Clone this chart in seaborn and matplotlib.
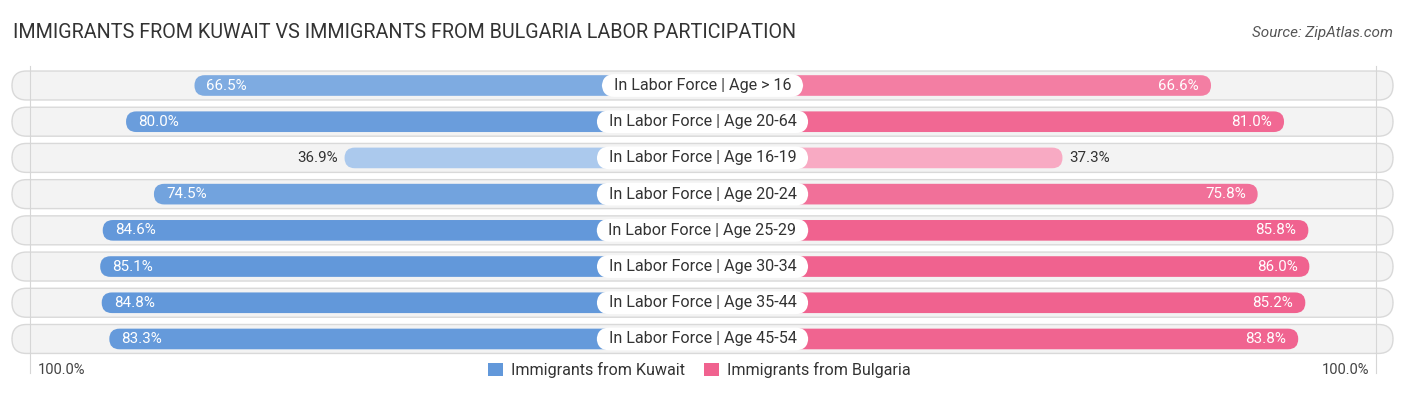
import numpy as np
import pandas as pd
import matplotlib
matplotlib.use("Agg")
import matplotlib.pyplot as plt
import seaborn as sns
from matplotlib.patches import FancyBboxPatch, Patch
from matplotlib.colors import to_rgb

# data
categories = [
    "In Labor Force | Age > 16",
    "In Labor Force | Age 20-64",
    "In Labor Force | Age 16-19",
    "In Labor Force | Age 20-24",
    "In Labor Force | Age 25-29",
    "In Labor Force | Age 30-34",
    "In Labor Force | Age 35-44",
    "In Labor Force | Age 45-54",
]
kuwait = [66.5, 80.0, 36.9, 74.5, 84.6, 85.1, 84.8, 83.3]
bulgaria = [66.6, 81.0, 37.3, 75.8, 85.8, 86.0, 85.2, 83.8]
groups = ["Immigrants from Kuwait", "Immigrants from Bulgaria"]

title = "IMMIGRANTS FROM KUWAIT VS IMMIGRANTS FROM BULGARIA LABOR PARTICIPATION"
source = "Source: ZipAtlas.com"

# layout (bars start behind the centre label)
OFFSET = 33.7
PX_X = 5.07      # pixels per % on x
PX_Y = 36.21     # pixels per row
W, H = 1406, 395
CX = 702.5

blue_dark, blue_light = "#6298da", "#aecbee"
pink_dark, pink_light = "#f0628f", "#f8adc5"


def shade(dark, light, v):
    t = np.clip((v - 35) / 50, 0, 1)
    d, l = np.array(to_rgb(dark)), np.array(to_rgb(light))
    return tuple(l + (d - l) * t)


df = pd.DataFrame({
    "category": categories * 2,
    "group": [groups[0]] * len(categories) + [groups[1]] * len(categories),
    "value": kuwait + bulgaria,
})
df["plot_x"] = np.where(df["group"] == groups[0], -(df["value"] + OFFSET), df["value"] + OFFSET)

fig = plt.figure(figsize=(W / 100, H / 100), dpi=100)
ax = fig.add_axes([0, 0, 1, 1])
plt.rcParams["font.family"] = ["Roboto", "DejaVu Sans"]

sns.barplot(data=df, x="plot_x", y="category", hue="group", order=categories,
            hue_order=groups, dodge=False, orient="h", width=0.57,
            palette=[blue_dark, pink_dark], legend=False, ax=ax)

ax.set_xlim(-CX / PX_X, (W - CX) / PX_X)
ax.set_ylim((H - 85.5) / PX_Y, -85.5 / PX_Y)
ax.axis("off")

aspect = PX_X / PX_Y

# row backgrounds
half = (CX - 12) / PX_X
for i in range(len(categories)):
    bg = FancyBboxPatch((-half, i - 0.4), 2 * half, 0.8,
                        boxstyle="round,pad=0,rounding_size=%f" % (14.5 / PX_X),
                        mutation_aspect=aspect, facecolor="#f3f3f3",
                        edgecolor="#d9d9d9", linewidth=1.0, zorder=0)
    ax.add_patch(bg)

# faint guide lines
for gx in [(30 - CX) / PX_X, (1376 - CX) / PX_X]:
    ax.plot([gx, gx], [-0.55, 7.95], color="#d6d6d6", lw=0.8, zorder=0.5)

# replace seaborn rectangles with rounded bars
for container, vals, dark, light in zip(ax.containers, [kuwait, bulgaria],
                                        [blue_dark, pink_dark], [blue_light, pink_light]):
    for bar, v in zip(container, vals):
        x0, y0 = bar.get_x(), bar.get_y()
        w, h = bar.get_width(), bar.get_height()
        if w < 0:
            x0, w = x0 + w, -w
        bar.set_visible(False)
        rb = FancyBboxPatch((x0, y0), w, h,
                            boxstyle="round,pad=0,rounding_size=%f" % (10.3 / PX_X),
                            mutation_aspect=aspect, facecolor=shade(dark, light, v),
                            edgecolor="none", zorder=2)
        ax.add_patch(rb)

# value labels
for i, (k, b) in enumerate(zip(kuwait, bulgaria)):
    lx = -(k + OFFSET)
    if k > 50:
        ax.text(lx + 12 / PX_X, i, f"{k:.1f}%", ha="left", va="center",
                color="white", fontsize=10.9, zorder=4)
    else:
        ax.text(lx - 7 / PX_X, i, f"{k:.1f}%", ha="right", va="center",
                color="#333333", fontsize=10.9, zorder=4)
    rx = b + OFFSET
    if b > 50:
        ax.text(rx - 12 / PX_X, i, f"{b:.1f}%", ha="right", va="center",
                color="white", fontsize=10.9, zorder=4)
    else:
        ax.text(rx + 7 / PX_X, i, f"{b:.1f}%", ha="left", va="center",
                color="#333333", fontsize=10.9, zorder=4)
    ax.text(0, i, "  " + categories[i] + "  ", ha="center", va="center",
            color="#333333", fontsize=11.6, zorder=5,
            bbox=dict(boxstyle="round,pad=0.24,rounding_size=0.8",
                      facecolor="white", edgecolor="none"))

# title and source
fig.text(13 / W, 1 - 33 / H, title, ha="left", va="center",
         fontsize=14.2, color="#333333")
fig.text(1393 / W, 1 - 33 / H, source, ha="right", va="center",
         fontsize=11, color="#555555", style="italic")

# bottom axis labels
fig.text(38 / W, 1 - 370 / H, "100.0%", ha="left", va="center",
         fontsize=10.5, color="#444444")
fig.text(1369 / W, 1 - 370 / H, "100.0%", ha="right", va="center",
         fontsize=10.5, color="#444444")

handles = [Patch(facecolor=blue_dark, edgecolor="none"),
           Patch(facecolor=pink_dark, edgecolor="none")]
fig.legend(handles, groups, loc="center", bbox_to_anchor=(699.5 / W, 1 - 370 / H),
           ncol=2, frameon=False, fontsize=11.6, handlelength=0.9, handleheight=0.9,
           handletextpad=0.5, columnspacing=1.2, labelcolor="#333333")

fig.savefig("out.png", dpi=100)
